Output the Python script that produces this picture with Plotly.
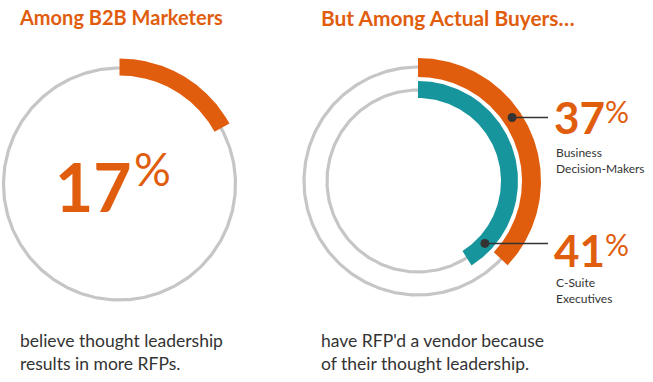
import numpy as np
import plotly.graph_objects as go

W, H = 653, 382
ORANGE = "#e15d0e"
TEAL = "#17959c"
GRAY = "#c6c6c6"
DARK = "#333333"
FONT = "Lato"

# ---- data ----
titles = ["Among B2B Marketers", "But Among Actual Buyers…"]
left_value = 17
right_values = [37, 41]              # Business Decision-Makers, C-Suite Executives
right_labels = ["Business<br>Decision-Makers", "C-Suite<br>Executives"]
captions = ["believe thought leadership<br>results in more RFPs.",
            "have RFP'd a vendor because<br>of their thought leadership."]

fig = go.Figure()


def ring(cx, cy, r):
    t = np.linspace(0, 2 * np.pi, 361)
    fig.add_trace(go.Scatter(x=cx + r * np.sin(t), y=cy - r * np.cos(t), mode="lines",
                             line=dict(color=GRAY, width=3.2), hoverinfo="skip"))


def band(cx, cy, r0, r1, pct, color):
    t = np.linspace(0, pct / 100 * 2 * np.pi, 200)
    xs = np.concatenate([cx + r1 * np.sin(t), cx + r0 * np.sin(t[::-1])])
    ys = np.concatenate([cy - r1 * np.cos(t), cy - r0 * np.cos(t[::-1])])
    fig.add_trace(go.Scatter(x=np.append(xs, xs[0]), y=np.append(ys, ys[0]), mode="lines",
                             fill="toself", fillcolor=color, line=dict(width=0, color=color),
                             hoverinfo="skip"))


# left donut
LCX, LCY = 119.5, 184
ring(LCX, LCY, 116)
band(LCX, LCY, 108.5, 125.5, left_value, ORANGE)

# right donut
RCX, RCY = 418, 181
ring(RCX, RCY, 114)
ring(RCX, RCY, 91)
band(RCX, RCY, 104, 123, right_values[0], ORANGE)
band(RCX, RCY, 83, 100, right_values[1], TEAL)

# connectors (dot on the arc, horizontal leader to the label)
LINE_END = 548
conn = [(113.5, 56), (91.5, 133)]
for r, ang in conn:
    a = np.deg2rad(ang)
    dx, dy = RCX + r * np.sin(a), RCY - r * np.cos(a)
    fig.add_trace(go.Scatter(x=[dx, LINE_END], y=[dy, dy], mode="lines",
                             line=dict(color=DARK, width=1.5), hoverinfo="skip"))
    fig.add_trace(go.Scatter(x=[dx], y=[dy], mode="markers",
                             marker=dict(color=DARK, size=9), hoverinfo="skip"))

ann = []
# titles
ann.append(dict(x=18, y=17, text=f"<b>{titles[0]}</b>", font=dict(size=20, color=ORANGE)))
ann.append(dict(x=320, y=17, text=f"<b>{titles[1]}</b>", font=dict(size=20.9, color=ORANGE)))
# big 17%
ann.append(dict(x=133, y=186, text=f"<b>{left_value}</b>", xanchor="right",
                font=dict(size=66, color=ORANGE)))
ann.append(dict(x=133, y=168, text="%", font=dict(size=46, color=ORANGE)))
# right values
for v, lab, yv, ylab in zip(right_values, right_labels, [117, 250], [160, 290]):
    ann.append(dict(x=553, y=yv, text=f"<b>{v}</b>", font=dict(size=44, color=ORANGE)))
    ann.append(dict(x=604, y=yv - 6, text="%", font=dict(size=30, color=ORANGE)))
    ann.append(dict(x=555, y=ylab, text=lab, font=dict(size=12, color=DARK)))
# captions
ann.append(dict(x=19, y=352, text=captions[0], font=dict(size=17.5, color=DARK)))
ann.append(dict(x=320, y=352, text=captions[1], font=dict(size=17.5, color=DARK)))

for a in ann:
    a.setdefault("xanchor", "left")
    a.update(xref="x", yref="y", yanchor="middle", showarrow=False, align="left", borderpad=0)
    a["font"].setdefault("family", FONT)

fig.update_layout(
    width=W, height=H, margin=dict(l=0, r=0, t=0, b=0),
    paper_bgcolor="white", plot_bgcolor="white", showlegend=False, hovermode=False,
    xaxis=dict(range=[0, W], visible=False, fixedrange=True),
    yaxis=dict(range=[H, 0], visible=False, fixedrange=True),
    annotations=ann,
)
fig.write_html("out.html", config={"displayModeBar": False},
               post_script="document.body.style.margin='0';")
